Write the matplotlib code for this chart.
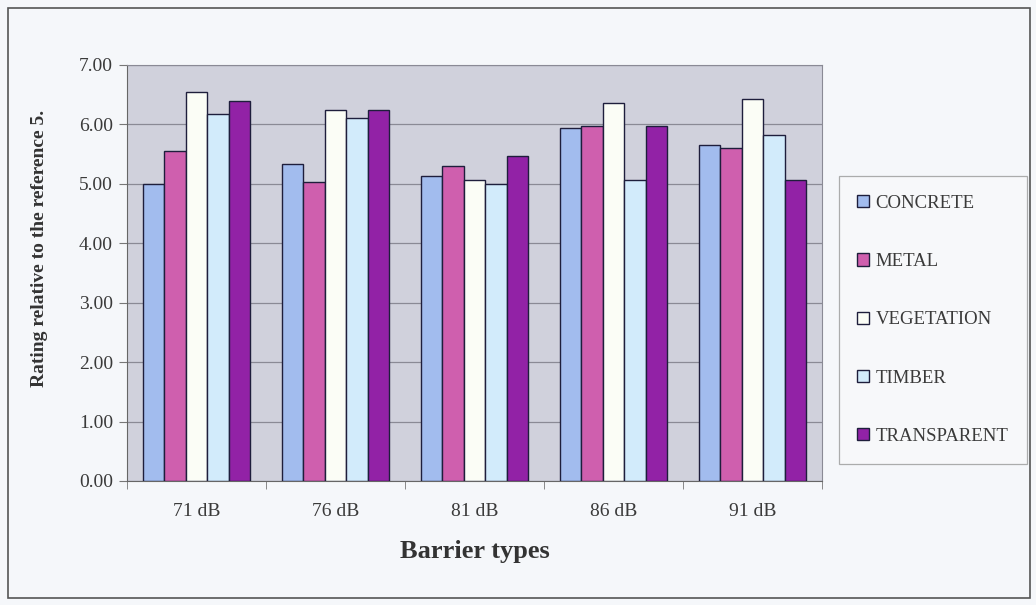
import matplotlib.pyplot as plt
from matplotlib.patches import Rectangle
import numpy as np

plt.rcParams['font.family'] = ['Liberation Serif', 'DejaVu Serif']

# data
levels = ['71 dB', '76 dB', '81 dB', '86 dB', '91 dB']
concrete = [5.00, 5.33, 5.14, 5.94, 5.66]
metal = [5.56, 5.03, 5.30, 5.97, 5.61]
vegetation = [6.55, 6.25, 5.07, 6.36, 6.42]
timber = [6.17, 6.11, 4.99, 5.07, 5.82]
transparent = [6.40, 6.25, 5.46, 5.97, 5.07]

series = [
    ('CONCRETE', concrete, '#a2bcee'),
    ('METAL', metal, '#cf5fae'),
    ('VEGETATION', vegetation, '#fbfdf6'),
    ('TIMBER', timber, '#d2ebfb'),
    ('TRANSPARENT', transparent, '#9222a6'),
]

fig = plt.figure(figsize=(10.36, 6.05), dpi=100)
fig.patch.set_facecolor('#f5f7fa')
ax = fig.add_axes([0.1226, 0.205, 0.6708, 0.6876])
ax.set_facecolor('#d0d1dc')

# outer chart frame
fig.patches.append(Rectangle((8 / 1036, 7 / 605), 1022 / 1036, 590 / 605,
                             transform=fig.transFigure, fill=False,
                             edgecolor='#555555', linewidth=1.2))

x = np.arange(len(levels))
w = 1 / 6.5
for i, (name, vals, col) in enumerate(series):
    ax.bar(x + (i - 2) * w, vals, width=w, color=col, edgecolor='#1e1e3c',
           linewidth=1.0, label=name, zorder=3)

ax.set_xlim(-0.5, len(levels) - 0.5)
ax.set_ylim(0, 7)
ax.set_yticks(np.arange(0, 8, 1))
ax.set_yticklabels([f'{v:.2f}' for v in range(8)], fontsize=14, color='#3a3a3a')
ax.yaxis.grid(True, color='#8a8a95', linewidth=0.9, zorder=0)

ax.set_xticks(x)
ax.set_xticklabels(levels, fontsize=14, color='#3a3a3a')
ax.tick_params(axis='x', length=0, pad=16)
ax.set_xticks(np.arange(-0.5, len(levels)), minor=True)
ax.tick_params(axis='x', which='minor', length=6, color='#777777')
ax.tick_params(axis='y', length=6, color='#777777', pad=4)

for s in ax.spines.values():
    s.set_color('#8a8a95')
ax.spines['left'].set_color('#666666')
ax.spines['bottom'].set_color('#666666')

ax.set_ylabel('Rating relative to the reference 5.', fontsize=14,
              fontweight='bold', color='#333333')
ax.yaxis.set_label_coords(-0.114, 0.56)
ax.set_xlabel('Barrier types', fontsize=19, fontweight='bold',
              color='#333333', labelpad=14)

leg = fig.legend(loc='center', bbox_to_anchor=(0.9005, 0.4713), fontsize=13.5,
                 labelspacing=2.2, handlelength=0.62, handleheight=0.62,
                 handletextpad=0.35, borderpad=1.0, borderaxespad=0,
                 frameon=True, fancybox=False, edgecolor='#999999',
                 facecolor='#f8f9fb', labelcolor='#3a3a3a')
leg.get_frame().set_linewidth(0.9)

fig.savefig('out.png', dpi=100, facecolor=fig.get_facecolor())
